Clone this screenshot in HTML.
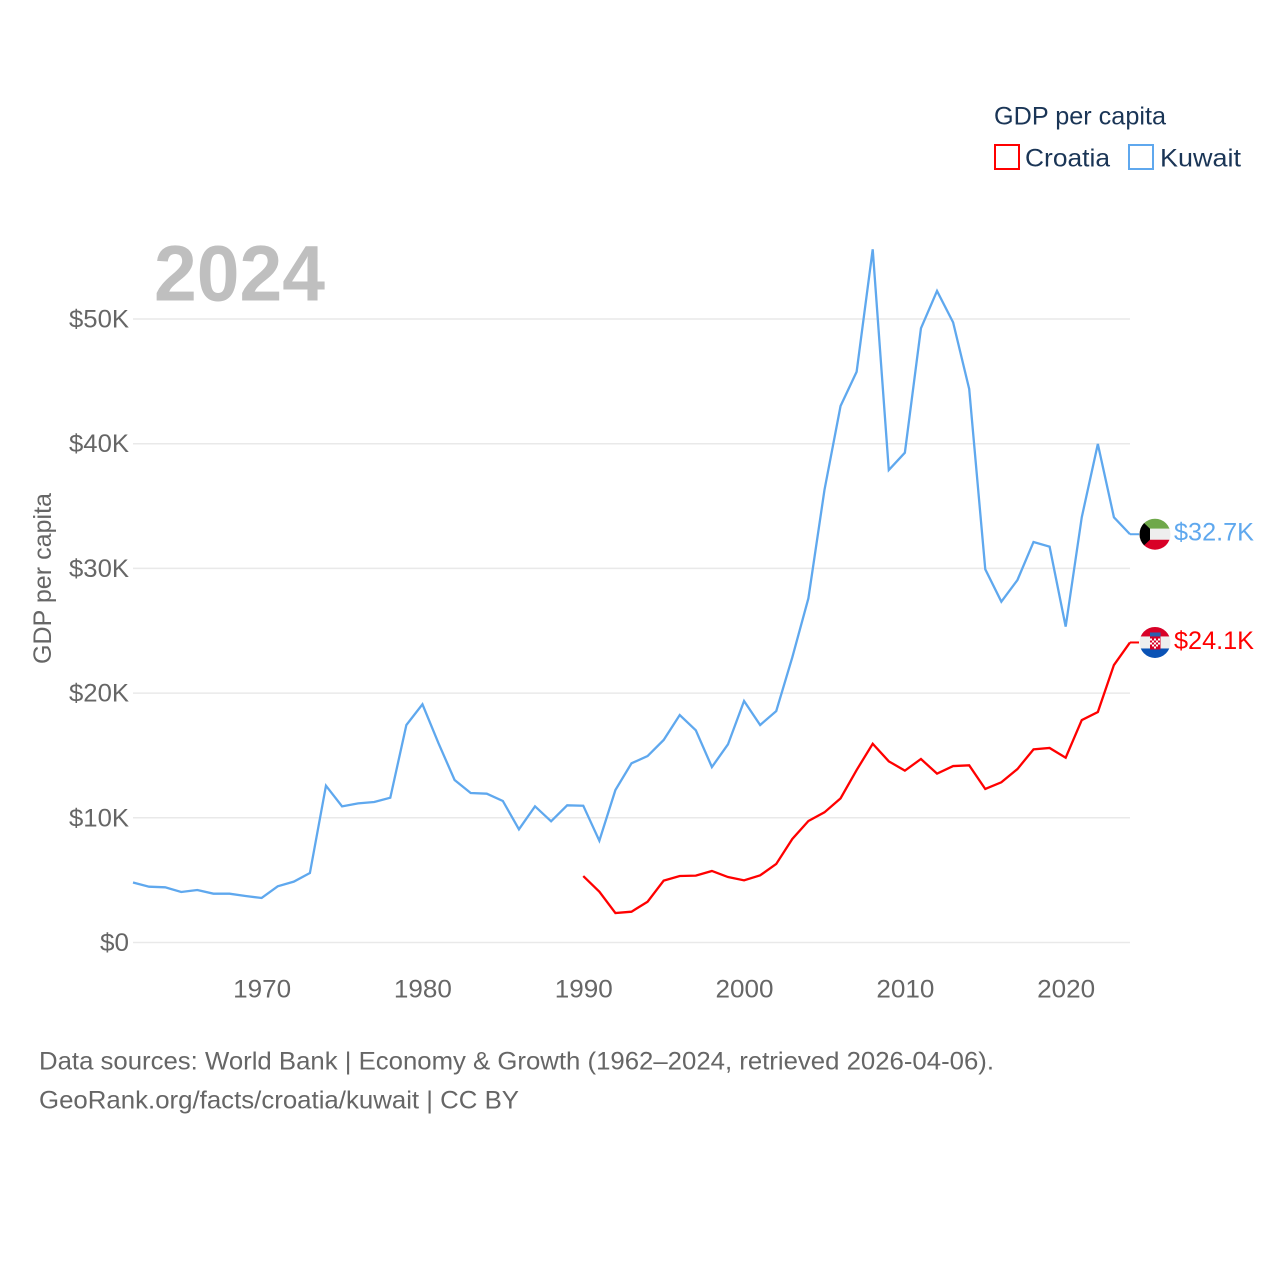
<!DOCTYPE html>
<html lang="en">
<head>
<meta charset="utf-8">
<title>GDP per capita: Croatia and Kuwait</title>
<style>
html,body{margin:0;padding:0;background:#fff;width:1280px;height:1280px;overflow:hidden}
svg{display:block}
text{font-family:"Liberation Sans",sans-serif}
</style>
</head>
<body>
<svg id="chart" xmlns="http://www.w3.org/2000/svg" width="1280" height="1280" viewBox="0 0 1280 1280">
  <defs>
    <clipPath id="kw-clip"><circle cx="0" cy="0" r="15.5"/></clipPath>
    <clipPath id="hr-clip"><circle cx="0" cy="0" r="15.5"/></clipPath>
  </defs>
  <rect width="1280" height="1280" fill="#fff"/>
  <g id="grid"></g>
  <g id="yticks"></g>
  <g id="xticks"></g>
  <text x="154" y="300.500" font-size="79" font-weight="700" fill="#bfbfbf" textLength="171" lengthAdjust="spacingAndGlyphs">2024</text>
  <text transform="translate(51,664) rotate(-90)" font-size="25" fill="#666" textLength="171" lengthAdjust="spacingAndGlyphs">GDP per capita</text>
  <polyline id="line-kuwait" fill="none" stroke="#5fa8ee" stroke-width="2.3" stroke-linejoin="miter"/>
  <polyline id="line-croatia" fill="none" stroke="#ff0000" stroke-width="2.3" stroke-linejoin="miter"/>
  <line id="connector-kuwait" stroke="#5fa8ee" stroke-width="2"/>
  <line id="connector-croatia" stroke="#ff0000" stroke-width="2"/>
  <g id="flag-kuwait">
    <g clip-path="url(#kw-clip)">
      <rect x="-16" y="-16" width="32" height="10.500" fill="#6fa84a"/>
      <rect x="-16" y="-5.500" width="32" height="11" fill="#eeeeee"/>
      <rect x="-16" y="5.500" width="32" height="11" fill="#d80027"/>
      <polygon points="-16,-16 -5,-5.500 -5,5.500 -16,16" fill="#000"/>
    </g>
  </g>
  <g id="flag-croatia">
    <g clip-path="url(#hr-clip)">
      <rect x="-16" y="-16" width="32" height="10" fill="#d80027"/>
      <rect x="-16" y="-6" width="32" height="12" fill="#eeeeee"/>
      <rect x="-16" y="6" width="32" height="10" fill="#0a52b5"/>
      <rect x="-5" y="-10" width="10.500" height="4" fill="#2a5fb0"/>
      <rect x="-5" y="-6" width="10.500" height="13" fill="#d80027"/>
      <path d="M-5-4h2v2h-2zM-1-4h2v2h-2zM3-4h2v2h-2zM-3-2h2v2h-2zM1-2h2v2h-2zM-5 0h2v2h-2zM-1 0h2v2h-2zM3 0h2v2h-2zM-3 2h2v2h-2zM1 2h2v2h-2zM-1 4h2v2h-2z" fill="#fff"/>
    </g>
  </g>
  <text id="label-kuwait" x="1174" font-size="25" fill="#5fa8ee" textLength="80" lengthAdjust="spacingAndGlyphs"></text>
  <text id="label-croatia" x="1174" font-size="25" fill="#ff0000" textLength="80" lengthAdjust="spacingAndGlyphs"></text>
  <g>
    <text x="994" y="124.500" font-size="25" fill="#1a3556" textLength="172" lengthAdjust="spacingAndGlyphs">GDP per capita</text>
    <rect x="995" y="145" width="24" height="24" fill="none" stroke="#ff0000" stroke-width="2"/>
    <text x="1025" y="166.500" font-size="25" fill="#1a3556" textLength="85" lengthAdjust="spacingAndGlyphs">Croatia</text>
    <rect x="1129" y="145" width="24" height="24" fill="none" stroke="#5fa8ee" stroke-width="2"/>
    <text x="1160" y="166.500" font-size="25" fill="#1a3556" textLength="81" lengthAdjust="spacingAndGlyphs">Kuwait</text>
  </g>
  <text x="39" y="1069.500" font-size="25" fill="#666" textLength="955" lengthAdjust="spacingAndGlyphs">Data sources: World Bank | Economy &amp; Growth (1962–2024, retrieved 2026-04-06).</text>
  <text x="39" y="1108.500" font-size="25" fill="#666" textLength="480" lengthAdjust="spacingAndGlyphs">GeoRank.org/facts/croatia/kuwait | CC BY</text>
</svg>
<script>
const firstYear = 1962;
const kuwaitValues = [4810,4475,4425,4050,4210,3915,3915,3730,3570,4505,4880,5570,12575,10920,11160,11270,11610,17440,19100,15970,13030,11990,11935,11350,9075,10920,9720,11000,10970,8165,12230,14370,14955,16240,18240,17020,14070,15890,19370,17440,18560,22870,27600,36290,43020,45770,55590,37890,39280,49250,52250,49730,44390,29930,27330,29070,32120,31740,25330,34100,39980,34100,32740];
const croatiaValues = [null,null,null,null,null,null,null,null,null,null,null,null,null,null,null,null,null,null,null,null,null,null,null,null,null,null,null,null,5330,4075,2365,2470,3270,4960,5330,5360,5735,5250,4985,5385,6295,8300,9745,10440,11560,13830,15940,14530,13780,14715,13540,14150,14210,12310,12850,13910,15490,15600,14820,17840,18480,22250,24060];
const yTickValues = [0,10000,20000,30000,40000,50000];
const yTickLabels = ['$0','$10K','$20K','$30K','$40K','$50K'];
const xTickValues = [1970,1980,1990,2000,2010,2020];

const svgNS = 'http://www.w3.org/2000/svg';
const x = function (year) { return 133 + (year - firstYear) * (1130 - 133) / 62; };
const y = function (value) { return 942.5 - value * 623.5 / 50000; };

const grid = document.getElementById('grid');
const yticks = document.getElementById('yticks');
const xticks = document.getElementById('xticks');

yTickValues.forEach(function (v, i) {
  const ln = document.createElementNS(svgNS, 'line');
  
  
  ln.setAttribute('x1', 133);
  ln.setAttribute('x2', 1130);
  ln.setAttribute('y1', y(v));
  ln.setAttribute('y2', y(v));
  ln.setAttribute('stroke', '#e9e9e9');
  ln.setAttribute('stroke-width', '1.5');
  grid.appendChild(ln);

  const t = document.createElementNS(svgNS, 'text');
  
  
  t.setAttribute('x', 129);
  t.setAttribute('y', y(v) + 8.5);
  t.setAttribute('text-anchor', 'end');
  t.setAttribute('font-size', '25');
  t.setAttribute('fill', '#666');
  t.setAttribute('textLength', v === 0 ? 29 : 60);
  t.setAttribute('lengthAdjust', 'spacingAndGlyphs');
  t.textContent = yTickLabels[i];
  yticks.appendChild(t);
});

xTickValues.forEach(function (v) {
  const t = document.createElementNS(svgNS, 'text');
  
  
  t.setAttribute('x', x(v) + 0.5);
  t.setAttribute('y', 997.5);
  t.setAttribute('text-anchor', 'middle');
  t.setAttribute('font-size', '25');
  t.setAttribute('fill', '#666');
  t.setAttribute('textLength', 58);
  t.setAttribute('lengthAdjust', 'spacingAndGlyphs');
  t.textContent = String(v);
  xticks.appendChild(t);
});

function pointsFor(values) {
  const pts = [];
  values.forEach(function (v, i) {
    if (v !== null) pts.push(x(firstYear + i).toFixed(2) + ',' + y(v).toFixed(2));
  });
  return pts.join(' ');
}
document.getElementById('line-kuwait').setAttribute('points', pointsFor(kuwaitValues));
document.getElementById('line-croatia').setAttribute('points', pointsFor(croatiaValues));

function placeEnd(values, flagId, labelId, connectorId) {
  const last = values[values.length - 1];
  const py = y(last);
  document.getElementById(flagId).setAttribute('transform', 'translate(1155,' + py.toFixed(2) + ')');
  const lab = document.getElementById(labelId);
  lab.setAttribute('y', (py + 6.5).toFixed(2));
  lab.textContent = '$' + (last / 1000).toFixed(1) + 'K';
  const c = document.getElementById(connectorId);
  c.setAttribute('x1', x(firstYear + values.length - 1));
  c.setAttribute('x2', 1139);
  c.setAttribute('y1', py);
  c.setAttribute('y2', py);
}
placeEnd(kuwaitValues, 'flag-kuwait', 'label-kuwait', 'connector-kuwait');
placeEnd(croatiaValues, 'flag-croatia', 'label-croatia', 'connector-croatia');
</script>
</body>
</html>
